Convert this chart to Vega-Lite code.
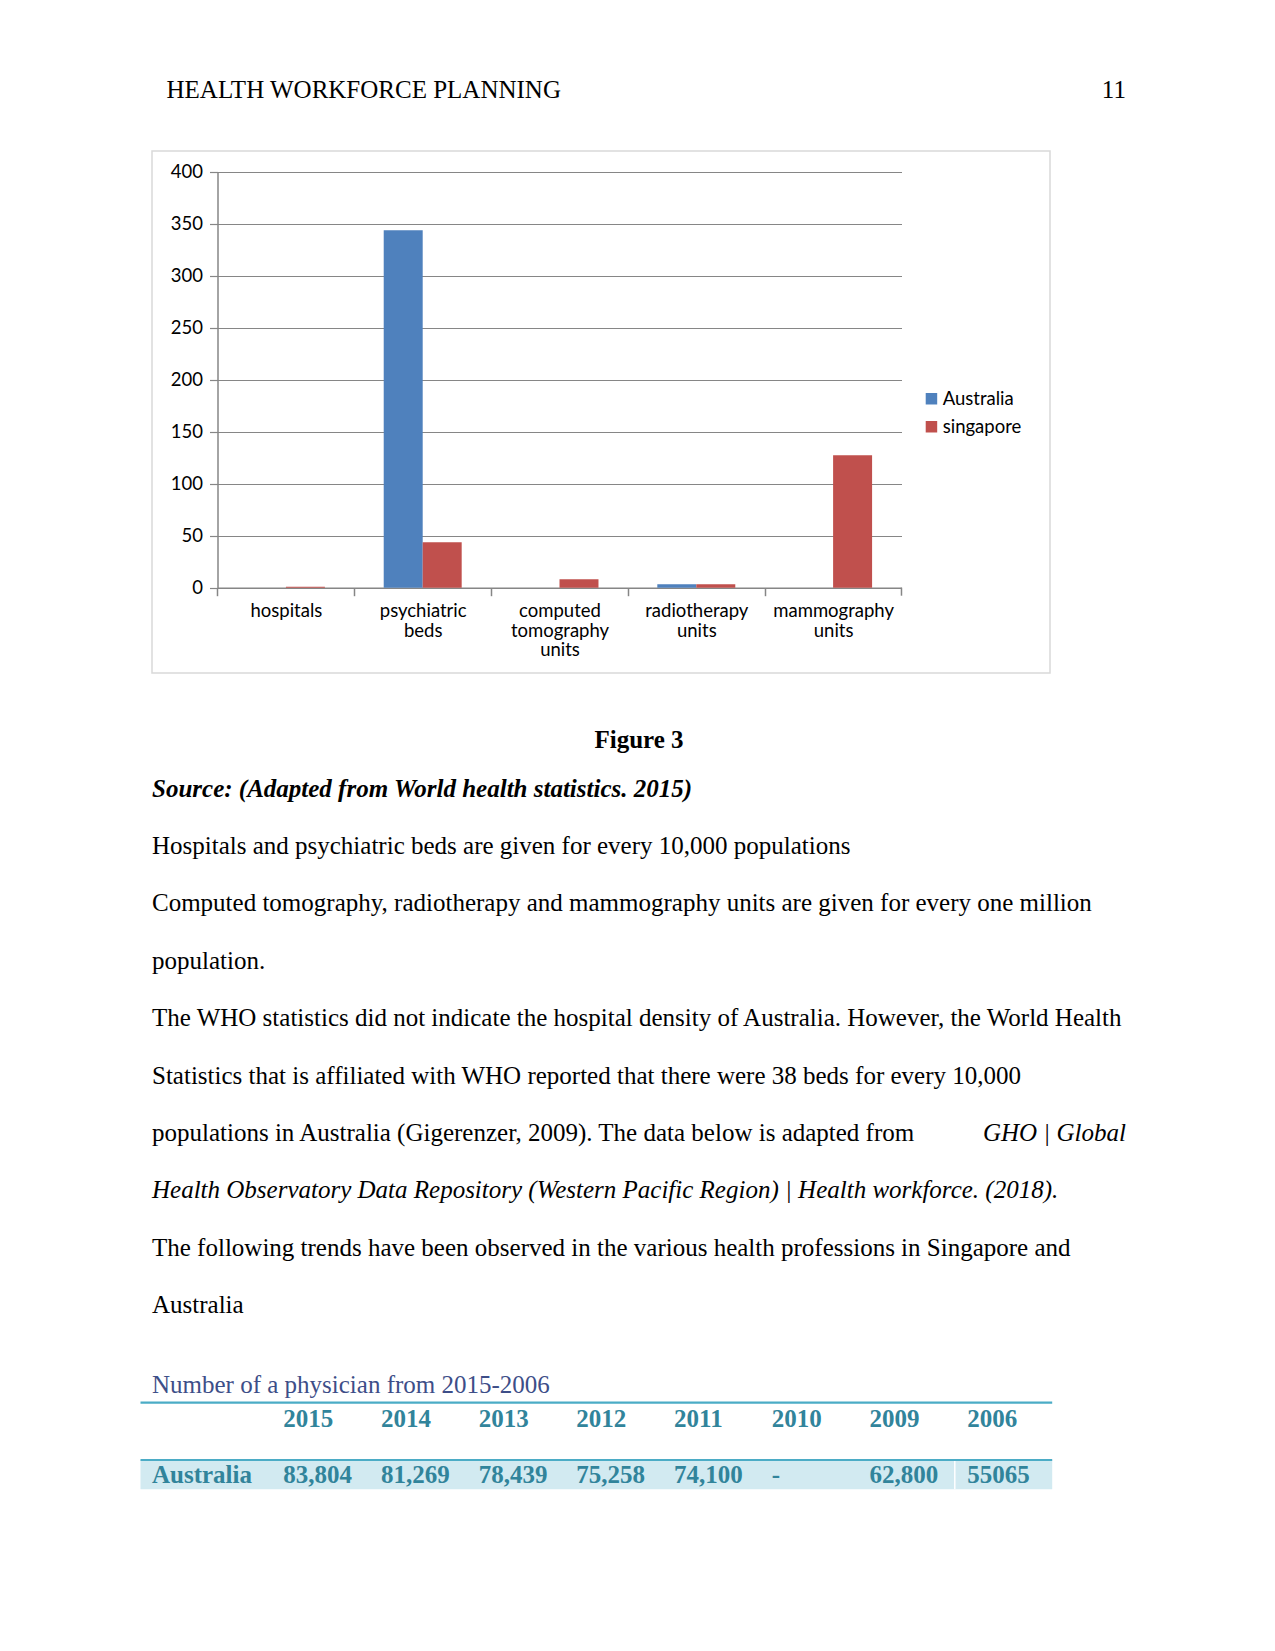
{
  "$schema": "https://vega.github.io/schema/vega-lite/v6.json",
  "background": "white",
  "padding": {"left": 139, "top": 0, "right": 0, "bottom": 0},
  "config": {"view": {"stroke": null}},
  "spacing": 0,
  "bounds": "flush",
  "vconcat": [
    {
      "width": 1000,
      "height": 151,
      "data": {"values": [{"title": "HEALTH WORKFORCE PLANNING", "page": "11"}]},
      "layer": [
        {
          "mark": {"type": "text", "font": "Liberation Serif", "fontSize": 25, "align": "left", "baseline": "alphabetic", "color": "#000"},
          "encoding": {"text": {"field": "title"}, "x": {"value": 14.5}, "y": {"value": 98}}
        },
        {
          "mark": {"type": "text", "font": "Liberation Serif", "fontSize": 25, "align": "right", "baseline": "alphabetic", "color": "#000"},
          "encoding": {"text": {"field": "page"}, "x": {"value": 973.9}, "y": {"value": 98}}
        }
      ]
    },
    {
      "width": 898,
      "height": 522,
      "view": {"stroke": "#D9D9D9", "strokeWidth": 1.5},
      "data": {"values": [
        {"category": "hospitals", "country": "singapore", "value": 0.8},
        {"category": "psychiatric beds", "country": "Australia", "value": 343.6},
        {"category": "psychiatric beds", "country": "singapore", "value": 43.6},
        {"category": "computed tomography units", "country": "singapore", "value": 8.2},
        {"category": "radiotherapy units", "country": "Australia", "value": 3.4},
        {"category": "radiotherapy units", "country": "singapore", "value": 3.4},
        {"category": "mammography units", "country": "singapore", "value": 127.4}
      ]},
      "layer": [
        {
          "mark": {"type": "bar"},
          "encoding": {
            "x": {
              "field": "category", "type": "nominal",
              "sort": ["hospitals", "psychiatric beds", "computed tomography units", "radiotherapy units", "mammography units"],
              "scale": {"range": [65.5, 749.5], "paddingInner": 0.43, "paddingOuter": 0.215},
              "axis": {
                "title": null, "orient": "bottom", "offset": -85.3,
                "tickOffset": -68.4, "labelOffset": 68.4,
                "tickSize": 8, "tickColor": "#868686", "tickWidth": 1.5,
                "domainColor": "#868686", "domainWidth": 1.5,
                "labelAngle": 0, "labelFont": "Lato", "labelFontSize": 18.5, "labelColor": "#000",
                "labelPadding": 6, "labelBaseline": "top", "labelLineHeight": 19.5,
                "labelExpr": "split(datum.value, ' ')", "grid": false
              }
            },
            "xOffset": {"field": "country", "type": "nominal", "sort": ["Australia", "singapore"], "scale": {"paddingInner": 0}},
            "y": {
              "field": "value", "type": "quantitative",
              "scale": {"domain": [0, 400], "range": [436.7, 20.7]},
              "axis": {
                "title": null, "offset": -65.5,
                "values": [0, 50, 100, 150, 200, 250, 300, 350, 400],
                "tickSize": 8, "tickColor": "#868686", "tickWidth": 1.2,
                "domainColor": "#868686", "domainWidth": 1.5,
                "labelFont": "Lato", "labelFontSize": 18.5, "labelColor": "#000", "labelPadding": 7,
                "grid": true, "gridColor": "#868686", "gridWidth": 1
              }
            },
            "color": {
              "field": "country", "type": "nominal",
              "scale": {"domain": ["Australia", "singapore"], "range": ["#4F81BD", "#C0504D"]},
              "legend": {
                "title": null, "orient": "none", "legendX": 770.2, "legendY": 389.5,
                "symbolType": "square", "symbolSize": 132, "symbolStrokeWidth": 0,
                "labelFont": "Lato", "labelFontSize": 18.5, "labelColor": "#000",
                "rowPadding": 9, "labelOffset": 2, "padding": 0
              }
            }
          }
        },
        {
          "data": {"values": [{"category": "mammography units"}]},
          "mark": {"type": "rule", "color": "#868686", "strokeWidth": 1.5},
          "encoding": {
            "x": {"field": "category", "type": "nominal", "sort": ["hospitals", "psychiatric beds", "computed tomography units", "radiotherapy units", "mammography units"], "bandPosition": 1.377},
            "y": {"datum": 0},
            "y2": {"datum": -7.7}
          }
        }
      ]
    },
    {
      "width": 1000,
      "height": 978,
      "layer": [
        {
          "data": {"values": [{"text": "Figure 3"}]},
          "mark": {"type": "text", "font": "Liberation Serif", "fontSize": 25, "fontWeight": "bold", "align": "center", "baseline": "alphabetic", "color": "#000"},
          "encoding": {"text": {"field": "text"}, "x": {"value": 487}, "y": {"value": 74.5}}
        },
        {
          "data": {"values": [{"text": "Source: (Adapted from World health statistics. 2015)"}]},
          "mark": {"type": "text", "font": "Liberation Serif", "fontSize": 25, "fontWeight": "bold", "fontStyle": "italic", "align": "left", "baseline": "alphabetic", "color": "#000"},
          "encoding": {"text": {"field": "text"}, "x": {"value": 0}, "y": {"value": 123.7}}
        },
        {
          "data": {"name": "body"},
          "transform": [{"filter": "datum.style == 'normal'"}],
          "mark": {"type": "text", "font": "Liberation Serif", "fontSize": 25, "align": "left", "baseline": "alphabetic", "color": "#000"},
          "encoding": {
            "text": {"field": "text"},
            "x": {"value": 0},
            "y": {"field": "line", "type": "quantitative", "scale": {"domain": [1, 9], "range": [181, 640.2]}, "axis": null}
          }
        },
        {
          "data": {"name": "body"},
          "transform": [{"filter": "datum.style == 'italic'"}],
          "mark": {"type": "text", "font": "Liberation Serif", "fontSize": 25, "fontStyle": "italic", "align": "left", "baseline": "alphabetic", "color": "#000"},
          "encoding": {
            "text": {"field": "text"},
            "x": {"value": 0},
            "y": {"field": "line", "type": "quantitative", "scale": {"domain": [1, 9], "range": [181, 640.2]}, "axis": null}
          }
        },
        {
          "data": {"name": "body"},
          "transform": [{"filter": "datum.style == 'italic-end'"}],
          "mark": {"type": "text", "font": "Liberation Serif", "fontSize": 25, "fontStyle": "italic", "align": "right", "baseline": "alphabetic", "color": "#000"},
          "encoding": {
            "text": {"field": "text"},
            "x": {"value": 973.9},
            "y": {"field": "line", "type": "quantitative", "scale": {"domain": [1, 9], "range": [181, 640.2]}, "axis": null}
          }
        },
        {
          "data": {"values": [{"text": "Number of a physician from 2015-2006"}]},
          "mark": {"type": "text", "font": "Liberation Serif", "fontSize": 25, "align": "left", "baseline": "alphabetic", "color": "#3D4E88"},
          "encoding": {"text": {"field": "text"}, "x": {"value": 0}, "y": {"value": 719.5}}
        },
        {
          "data": {"values": [{}]},
          "mark": {"type": "rect", "color": "#D2EAF1"},
          "encoding": {"x": {"value": -11.5}, "x2": {"value": 900.2}, "y": {"value": 787}, "y2": {"value": 816.3}}
        },
        {
          "data": {"values": [{"y": 729.7}, {"y": 787}]},
          "mark": {"type": "rule", "color": "#4BACC6", "strokeWidth": 2.2},
          "encoding": {"x": {"value": -11.5}, "x2": {"value": 900.2}, "y": {"field": "y", "type": "quantitative", "scale": null}}
        },
        {
          "data": {"values": [{}]},
          "mark": {"type": "rule", "color": "#FFFFFF", "strokeWidth": 1.5},
          "encoding": {"x": {"value": 802.8}, "y": {"value": 788}, "y2": {"value": 816.3}}
        },
        {
          "data": {"name": "table"},
          "mark": {"type": "text", "font": "Liberation Serif", "fontSize": 25, "fontWeight": "bold", "align": "left", "baseline": "alphabetic", "color": "#31849B"},
          "encoding": {
            "text": {"field": "year"},
            "x": {"field": "year", "type": "nominal", "sort": null, "scale": {"type": "point", "range": [131.2, 815.2], "padding": 0}, "axis": null},
            "y": {"value": 753.7}
          }
        },
        {
          "data": {"name": "table"},
          "mark": {"type": "text", "font": "Liberation Serif", "fontSize": 25, "fontWeight": "bold", "align": "left", "baseline": "alphabetic", "color": "#31849B"},
          "encoding": {
            "text": {"field": "Australia"},
            "x": {"field": "year", "type": "nominal", "sort": null, "scale": {"type": "point", "range": [131.2, 815.2], "padding": 0}, "axis": null},
            "y": {"value": 810.3}
          }
        },
        {
          "data": {"values": [{"text": "Australia"}]},
          "mark": {"type": "text", "font": "Liberation Serif", "fontSize": 25, "fontWeight": "bold", "align": "left", "baseline": "alphabetic", "color": "#31849B"},
          "encoding": {"text": {"field": "text"}, "x": {"value": 0}, "y": {"value": 810.3}}
        }
      ]
    }
  ],
  "datasets": {
    "body": [
      {"line": 1, "style": "normal", "text": "Hospitals and psychiatric beds are given for every 10,000 populations"},
      {"line": 2, "style": "normal", "text": "Computed tomography, radiotherapy and mammography units are given for every one million"},
      {"line": 3, "style": "normal", "text": "population."},
      {"line": 4, "style": "normal", "text": "The WHO statistics did not indicate the hospital density of Australia. However, the World Health"},
      {"line": 5, "style": "normal", "text": "Statistics that is affiliated with WHO reported that there were 38 beds for every 10,000"},
      {"line": 6, "style": "normal", "text": "populations in Australia (Gigerenzer, 2009). The data below is adapted from"},
      {"line": 6, "style": "italic-end", "text": "GHO | Global"},
      {"line": 7, "style": "italic", "text": "Health Observatory Data Repository (Western Pacific Region) | Health workforce. (2018)."},
      {"line": 8, "style": "normal", "text": "The following trends have been observed in the various health professions in Singapore and"},
      {"line": 9, "style": "normal", "text": "Australia"}
    ],
    "table": [
      {"year": "2015", "Australia": "83,804"},
      {"year": "2014", "Australia": "81,269"},
      {"year": "2013", "Australia": "78,439"},
      {"year": "2012", "Australia": "75,258"},
      {"year": "2011", "Australia": "74,100"},
      {"year": "2010", "Australia": "-"},
      {"year": "2009", "Australia": "62,800"},
      {"year": "2006", "Australia": "55065"}
    ]
  }
}
